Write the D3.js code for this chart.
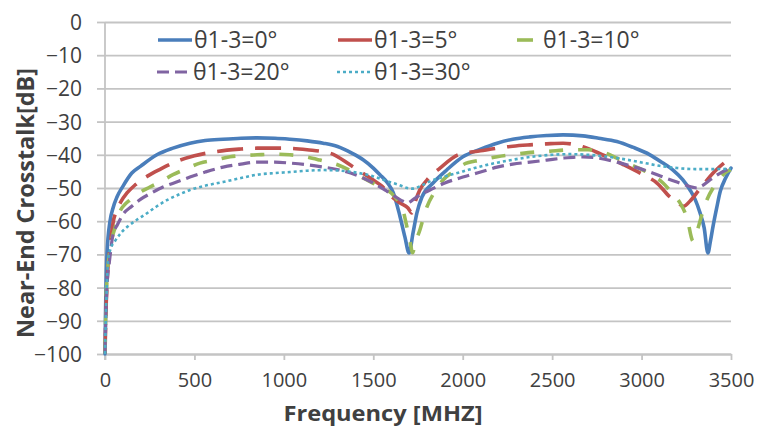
<!DOCTYPE html>
<html><head><meta charset="utf-8">
<script src="https://cdn.jsdelivr.net/npm/d3@7"></script>
<style>
html,body{margin:0;padding:0;background:#fff;}
svg{display:block;font-family:"Open Sans",sans-serif;}
</style></head>
<body>
<svg id="chart" width="757" height="426"></svg>
<script>
// ---------------- DATA ----------------
const xTicks = [0, 500, 1000, 1500, 2000, 2500, 3000, 3500];
const yTicks = [0, -10, -20, -30, -40, -50, -60, -70, -80, -90, -100];
const seriesNames = ["θ1-3=0°", "θ1-3=5°", "θ1-3=10°", "θ1-3=20°", "θ1-3=30°"];

const freq0 = [0, 3, 11, 28, 45, 67, 100, 150, 200, 290, 380, 475, 560, 660, 760, 850, 950, 1034, 1130, 1220, 1300, 1380, 1443, 1500, 1537, 1580, 1611, 1649, 1677, 1700, 1722, 1744, 1772, 1834, 1912, 2001, 2100, 2192, 2280, 2376, 2470, 2561, 2672, 2760, 2862, 2950, 3047, 3120, 3176, 3230, 3271, 3300, 3327, 3350, 3371, 3385, 3399, 3420, 3440, 3470, 3500];
const val0  = [-100, -88, -70, -60, -56, -52.7, -49.5, -45.5, -43.4, -40, -38, -36.5, -35.7, -35.3, -35, -34.9, -35, -35.3, -35.8, -36.5, -37.5, -39.5, -41.5, -44, -46, -48.5, -51.3, -58.5, -64.8, -69.6, -63.6, -57.5, -52.7, -48.5, -44.5, -40.6, -38.3, -36.5, -35.3, -34.6, -34.2, -34, -34.3, -35, -36, -37.7, -40, -42.5, -44.6, -47.5, -50.6, -53.5, -57.5, -62, -69.6, -66, -61.7, -56, -51, -47, -44];

const freq5 = [0, 5, 12, 28, 45, 67, 90, 123, 170, 235, 310, 400, 500, 626, 750, 850, 1000, 1130, 1258, 1370, 1440, 1500, 1550, 1605, 1650, 1694, 1715, 1735, 1761, 1800, 1873, 1985, 2100, 2192, 2280, 2376, 2470, 2561, 2672, 2740, 2806, 2900, 3008, 3086, 3159, 3200, 3235, 3270, 3330, 3400, 3460, 3500];
const val5  = [-100, -88, -78, -68, -60.5, -56.6, -54, -51.5, -49, -46.5, -44.3, -42, -40.3, -39, -38.3, -38, -38, -38.5, -39.5, -43, -45.5, -47.6, -49.5, -52.7, -54.5, -56, -57.5, -54, -50.5, -47.6, -44, -39.8, -38.8, -38, -37.4, -37, -36.7, -36.5, -37.6, -39, -40.6, -43, -46, -48.5, -52.7, -54.3, -55.5, -54, -50, -45.5, -42.5, -41];

const freq10 = [0, 5, 12, 25, 40, 56, 84, 110, 140, 190, 251, 320, 380, 450, 531, 620, 699, 780, 850, 950, 1034, 1120, 1202, 1300, 1380, 1443, 1500, 1550, 1600, 1640, 1660, 1688, 1705, 1720, 1735, 1761, 1780, 1800, 1845, 1890, 1950, 2001, 2100, 2192, 2300, 2400, 2471, 2600, 2700, 2800, 2862, 2940, 3008, 3070, 3120, 3170, 3215, 3254, 3288, 3310, 3343, 3370, 3400, 3440, 3477, 3500];
const val10  = [-100, -86, -77, -70, -65, -62, -57, -55, -53.6, -51.5, -49.7, -47.8, -46, -44.3, -42.5, -41.5, -40.6, -40.2, -40, -39.8, -40, -40.6, -41.6, -43, -45, -47, -48.6, -50, -51.5, -54, -55.7, -61.7, -66, -69.5, -66.5, -62.6, -59, -55.7, -51, -47.6, -45, -43, -41.6, -40.6, -39.8, -39.2, -39, -38.5, -38.5, -39.5, -41, -43, -44.6, -46.5, -48.5, -51.5, -54.5, -59, -66, -63, -57, -53, -50, -47, -45, -44.5];

const freq20 = [0, 5, 12, 25, 45, 70, 100, 150, 196, 260, 324, 400, 475, 560, 660, 760, 850, 950, 1034, 1130, 1220, 1314, 1400, 1443, 1500, 1577, 1620, 1666, 1690, 1710, 1740, 1780, 1817, 1900, 2001, 2100, 2192, 2280, 2376, 2470, 2561, 2672, 2760, 2862, 2950, 3047, 3120, 3198, 3250, 3288, 3310, 3340, 3382, 3440, 3500];
const val20  = [-100, -88, -79, -72, -64, -61, -58, -55.5, -53.5, -51.5, -49.7, -48.2, -46.7, -45.2, -43.7, -42.8, -42.2, -42.2, -42.5, -43, -43.7, -44.6, -46, -47, -48.5, -51, -52.5, -54, -54.5, -54, -52.8, -51.6, -50.6, -48.5, -46.7, -45.2, -43.7, -42.8, -42.2, -41.6, -41, -40.6, -41, -42.2, -43.5, -45.2, -46.7, -48.2, -49.2, -49.8, -50, -49.3, -47.6, -45.5, -44];

const freq30 = [0, 5, 10, 17, 30, 56, 90, 129, 180, 224, 290, 352, 420, 475, 560, 660, 760, 850, 950, 1034, 1130, 1220, 1320, 1420, 1500, 1580, 1640, 1690, 1720, 1760, 1817, 1900, 2001, 2100, 2200, 2300, 2400, 2500, 2600, 2700, 2800, 2900, 3000, 3100, 3200, 3300, 3400, 3500];
const val30  = [-100, -88, -80, -72, -68.5, -66, -63.5, -61.5, -59.5, -58, -55.5, -53.5, -51.8, -50.6, -49.3, -48.2, -47, -46, -45.5, -45.2, -44.8, -44.6, -44.8, -45.5, -46.5, -48, -49, -50, -50.2, -49.5, -48, -46.5, -45, -43.5, -42.3, -41.3, -40.5, -40, -39.8, -40, -40.5, -41.3, -42.3, -43.3, -44, -44.3, -44.3, -44.2];

// ---------------- LAYOUT / STYLE ----------------
const W = 757, H = 426;
const plot = {left: 105, right: 731, top: 22, bottom: 354};
const colors = ["#4A7EBB", "#C0504D", "#9BBB59", "#8064A2", "#4BACC6"];
const dashes = [null, "26,12", "14,15", "12,6", "3,3"];
const widths = [3.6, 3.6, 3.6, 3.2, 2.6];
const gridColor = "#c4c4c4";
const textColor = "#404040";

const freqs = [freq0, freq5, freq10, freq20, freq30];
const vals = [val0, val5, val10, val20, val30];

const svg = d3.select("#chart");
svg.append("rect").attr("width", W).attr("height", H).attr("fill", "#fff");

const x = d3.scaleLinear().domain([0, 3500]).range([plot.left, plot.right]);
const y = d3.scaleLinear().domain([-100, 0]).range([plot.bottom, plot.top]);

// horizontal gridlines (with outward tick marks on the left)
svg.append("g").attr("class", "grid")
  .attr("transform", `translate(${plot.left},0)`)
  .call(d3.axisLeft(y).tickValues(yTicks).tickSize(8).tickSizeOuter(0).tickFormat(""))
  .call(g => g.select(".domain").remove())
  .call(g => g.selectAll(".tick line").attr("stroke", gridColor).attr("stroke-width", 1.8))
  .call(g => g.selectAll(".tick").append("line")
      .attr("x1", 0).attr("x2", plot.right - plot.left)
      .attr("stroke", gridColor).attr("stroke-width", 1.8));

// y axis line
svg.append("line")
  .attr("x1", x(0)).attr("x2", x(0))
  .attr("y1", y(0)).attr("y2", y(-100) + 6)
  .attr("stroke", gridColor).attr("stroke-width", 1.8);

// y tick labels
svg.append("g")
  .attr("transform", `translate(82,0)`)
  .call(d3.axisLeft(y).tickValues(yTicks).tickSize(0).tickPadding(0).tickFormat(d3.format("d")))
  .call(g => g.select(".domain").remove())
  .call(g => g.selectAll("text")
      .attr("fill", textColor).attr("font-size", 21)
      .attr("font-family", "'Open Sans', sans-serif").attr("dy", "0.36em"));

// x axis ticks + labels
svg.append("g")
  .attr("transform", `translate(0,${plot.bottom})`)
  .call(d3.axisBottom(x).tickValues(xTicks).tickSize(6).tickSizeOuter(0).tickPadding(17).tickFormat(d3.format("d")))
  .call(g => g.select(".domain").attr("stroke", gridColor).attr("stroke-width", 1.8))
  .call(g => g.selectAll(".tick line").attr("stroke", gridColor).attr("stroke-width", 1.8))
  .call(g => g.selectAll("text")
      .attr("fill", textColor).attr("font-size", 20)
      .attr("font-family", "'Open Sans', sans-serif")
      .attr("dy", "0.5em"));

// series
const line = d3.line()
  .x(d => x(d[0])).y(d => y(d[1]))
  .curve(d3.curveMonotoneX);

const plotG = svg.append("g");
freqs.forEach((fr, i) => {
  const pts = fr.map((f, j) => [f, vals[i][j]]);
  plotG.append("path")
    .datum(pts)
    .attr("d", line)
    .attr("fill", "none")
    .attr("stroke", colors[i])
    .attr("stroke-width", widths[i])
    .attr("stroke-dasharray", dashes[i])
    .attr("stroke-linejoin", "round")
    .attr("stroke-linecap", i === 0 ? "round" : "butt");
});

// legend
const legendPos = [
  {lx1: 158, lx2: 192, tx: 194, cy: 40},
  {lx1: 338, lx2: 372, tx: 374, cy: 40},
  {lx1: 517, lx2: 533, tx: 543, cy: 40},
  {lx1: 157, lx2: 190, tx: 193, cy: 72},
  {lx1: 337, lx2: 370, tx: 374, cy: 72}
];
const lg = svg.append("g");
seriesNames.forEach((name, i) => {
  const p = legendPos[i];
  lg.append("line")
    .attr("x1", p.lx1).attr("x2", p.lx2).attr("y1", p.cy).attr("y2", p.cy)
    .attr("stroke", colors[i]).attr("stroke-width", widths[i])
    .attr("stroke-dasharray", (i === 1 || i === 2) ? null : dashes[i])
    .attr("stroke-linecap", "butt");
  lg.append("text")
    .attr("x", p.tx).attr("y", p.cy).attr("dy", "0.36em")
    .attr("fill", textColor).attr("font-size", 23)
    .text(name);
});

// axis titles
svg.append("text")
  .attr("x", 383).attr("y", 421)
  .attr("text-anchor", "middle")
  .attr("font-weight", "bold").attr("font-size", 22)
  .attr("fill", textColor)
  .attr("textLength", 199).attr("lengthAdjust", "spacingAndGlyphs")
  .text("Frequency [MHZ]");

svg.append("text")
  .attr("transform", "translate(34,203) rotate(-90)")
  .attr("text-anchor", "middle")
  .attr("font-weight", "bold").attr("font-size", 24)
  .attr("fill", textColor)
  .attr("textLength", 270).attr("lengthAdjust", "spacingAndGlyphs")
  .text("Near-End Crosstalk[dB]");
</script>
</body></html>
